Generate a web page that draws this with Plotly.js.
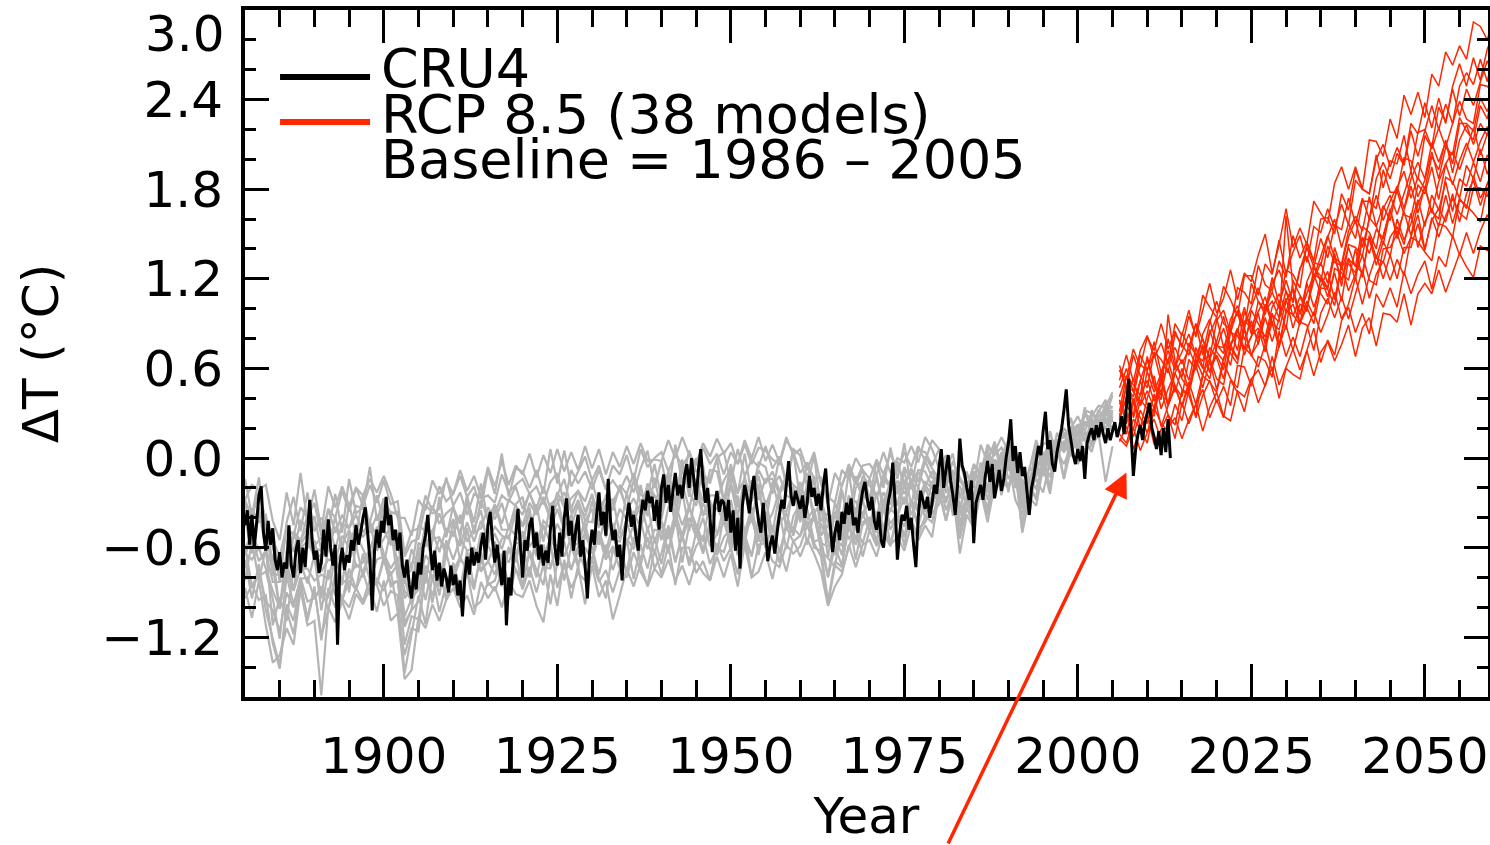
<!DOCTYPE html>
<html><head><meta charset="utf-8">
<script src="https://cdn.plot.ly/plotly-3.0.1.min.js"></script>
<style>html,body{margin:0;padding:0;background:#fff;}#chart{width:1490px;height:845px;}</style>
</head><body><div id="chart"></div>
<script>
// ---------------- DATA (temperature anomalies in hundredths of °C, baseline 1986-2005) ----------------
const cruStartYear = 1880;
const cruStepsPerYear = 3;
const cru4 = [
-45,-35,-58, -38,-60,-44, -25,-19,-50, -62,-42,-58, -47,-68,-75, -63,-80,-70, -74,-45,-72, -80,-62,-55, -77,-60,-73, -50,-28,-55,
-68,-62,-77, -70,-48,-66, -41,-60,-72, -58,-125,-72, -60,-75,-65, -70,-55,-62, -45,-58,-50, -40,-33,-50, -68,-102,-62, -48,-60,-42,
-50,-26,-45, -38,-55,-48, -62,-50,-72, -80,-68,-85, -94,-76,-88, -70,-78,-60, -52,-38,-58, -75,-62,-82, -70,-86,-74, -80,-90,-72,
-85,-78,-92, -82,-106,-80, -66,-78,-60, -72,-63,-70, -58,-50,-68, -45,-36,-55, -70,-58,-72, -85,-62,-112, -80,-92,-66, -52,-34,-58,
-80,-55,-62, -45,-40,-60, -50,-68,-58, -72,-62,-70, -48,-32,-60, -72,-50,-66, -40,-27,-52, -42,-62,-48, -38,-66,-55, -72,-94,-62,
-48,-58,-38, -23,-45,-36, -52,-14,-42, -55,-48,-66, -58,-82,-55, -40,-30,-46, -38,-52,-62, -40,-28,-35, -22,-30,-26, -42,-28,-48,
-20,-11,-30, -18,-36,-22, -10,-25,-18, -27,-12,-4, -20,0,-14, -28,-8,6, -16,-30,-20, -40,-63,-32, -22,-36,-28, -30,-42,-28,
-50,-35,-62, -40,-74,-32, -18,-26,-37, -22,-12,-30, -42,-50,-30, -48,-69,-58, -52,-64,-50, -38,-28,-34, -18,-2,-25, -32,-22,-28,
-34,-25,-40, -30,-12,-26, -20,-32,-24, -35,-18,-7, -30,-45,-63, -50,-42,-55, -36,-44,-30, -38,-27,-45, -40,-50,-32, -22,-16,-28,
-35,-26,-42, -48,-36,-55, -60,-45,-30, -22,-3,-30, -68,-50,-38, -42,-32,-48, -40,-58,-73, -40,-22,-28, -34,-26,-40, -30,-18,-24,
-6,6,-20, -8,2,-15, -25,-38,-18, 13,-5,-10, -20,-28,-15, -57,-30,-24, -18,-28,-12, -2,-16,-4, -27,-18,-8, -22,-14,0,
10,26,-2, 8,-10,4, -12,-6,-22, -38,-20,-12, -2,8,2, 18,31,6, 12,-4,-9, 4,12,20, 32,46,22, 12,2,-4,
6,-2,8, -14,10,16, 20,12,22, 14,24,16, 10,20,12, 18,24,14, 20,28,16, 35,53,18, -12,6,16, 22,12,24,
30,37,20, 14,6,18, 2,20,4, 26,0
];

const histStartYear = 1880;  // historical model runs, one value per year 1880-2005
const hist01 = [-14,-39,-13,-48,-48,-82,-43,-26,-49,-23, -49,-40,-48,-24,-50,-14,-37,-33,-6,-42, -27,-37,-36,-66,-56,-54,-31,-37,-34,-13, -32,-23,-38,-24,-27,-25,-30,-11,-23,-18, -14,-24,-19,-31,-16,-10,-32,-8,-17,-9, -21,-8,-21,-15,-22,-12,-23,-7,5,-20, -2,-24,9,-17,5,-9,-10,-17,0,4, -17,6,-12,-1,-6,8,-7,1,-15,6, 2,-19,2,-36,-38,-40,-18,-7,-18,-8, -28,-2,-20,7,-14,10,-21,5,4,-5, 6,-18,-2,-13,-21,-4,-10,9,2,7, -4,-2,-20,-15,-12,10,9,8,16,20, 28,18,29,28,32,34];
const hist02 = [-94,-85,-95,-92,-124,-141,-102,-118,-86,-107, -86,-122,-87,-100,-94,-100,-87,-96,-81,-85, -99,-89,-92,-144,-118,-92,-111,-78,-103,-84, -85,-95,-76,-100,-96,-83,-89,-77,-94,-74, -88,-73,-90,-71,-98,-70,-72,-87,-77,-82, -68,-83,-75,-90,-75,-80,-63,-76,-85,-61, -78,-58,-85,-60,-60,-77,-69,-82,-57,-69, -60,-78,-50,-80,-58,-57,-69,-73,-58,-64, -59,-45,-57,-66,-98,-72,-76,-60,-45,-66, -48,-59,-51,-59,-38,-52,-42,-52,-39,-43, -21,-42,-21,-54,-33,-45,-14,-38,-18,-14, -18,-8,-49,-22,-14,-23,-2,4,-4,7, 12,12,4,22,19,19];
const hist03 = [-44,-52,-38,-45,-78,-78,-77,-49,-55,-46, -60,-62,-42,-61,-44,-47,-38,-50,-43,-52, -27,-57,-54,-83,-70,-69,-48,-49,-37,-51, -41,-50,-30,-50,-47,-33,-41,-30,-47,-35, -45,-30,-38,-26,-40,-30,-23,-36,-31,-39, -24,-42,-31,-34,-19,-35,-27,-37,-17,-25, -34,-12,-40,-6,-23,-32,-5,-35,-28,-15, -7,-32,-27,-15,-28,-14,-14,-24,-16,-23, -20,-28,-15,-42,-41,-55,-21,-46,-20,-15, -28,-14,-30,-16,-24,-6,-15,-9,-19,-9, -19,-7,-9,-37,-9,-28,-3,-23,9,-10, 13,-12,-12,-14,-3,-6,4,12,14,19, 22,12,24,24,28,42];
const hist04 = [-59,-86,-79,-76,-94,-121,-79,-98,-81,-80, -94,-87,-94,-64,-84,-80,-71,-76,-64,-85, -68,-84,-82,-113,-101,-75,-95,-71,-92,-64, -81,-68,-73,-65,-76,-69,-78,-64,-70,-57, -57,-80,-49,-73,-74,-58,-66,-53,-71,-60, -68,-52,-68,-59,-67,-57,-45,-73,-46,-65, -43,-64,-38,-70,-45,-45,-62,-42,-64,-38, -63,-38,-57,-34,-65,-39,-58,-36,-61,-39, -30,-58,-36,-62,-67,-73,-45,-54,-47,-57, -41,-50,-31,-44,-37,-46,-28,-36,-20,-31, -21,-27,-20,-44,-27,-31,-18,-27,-13,1, -23,7,-32,-38,-4,-4,0,12,-14,18, 18,0,32,20,24,18];
const hist05 = [-60,-52,-61,-59,-66,-101,-62,-78,-72,-60, -55,-76,-68,-69,-52,-60,-44,-53,-45,-62, -54,-46,-71,-89,-95,-62,-53,-68,-54,-60, -49,-59,-43,-56,-42,-54,-46,-52,-54,-37, -46,-38,-57,-42,-47,-34,-48,-46,-31,-50, -29,-46,-42,-49,-34,-41,-36,-47,-30,-34, -41,-18,-46,-22,-49,-22,-39,-25,-25,-42, -18,-39,-12,-41,-21,-44,-16,-34,-36,-22, -39,-18,-37,-30,-67,-36,-55,-29,-29,-40, -26,-39,-23,-31,-15,-24,-14,-28,-16,-20, -19,-6,-25,-31,-35,-10,-17,-7,-17,-3, 8,-20,-14,-26,-12,-4,9,4,11,6, 18,22,22,20,29,32];
const hist06 = [-64,-68,-60,-74,-89,-100,-76,-89,-74,-74, -82,-78,-81,-62,-85,-50,-73,-70,-61,-48, -64,-74,-66,-106,-94,-88,-65,-72,-86,-55, -68,-54,-62,-60,-71,-58,-69,-54,-52,-70, -49,-59,-53,-66,-54,-62,-43,-59,-57,-44, -63,-49,-63,-44,-54,-43,-58,-47,-30,-57, -42,-54,-37,-52,-33,-45,-56,-28,-52,-33, -55,-25,-50,-33,-55,-28,-50,-24,-45,-49, -26,-41,-34,-57,-59,-53,-59,-36,-45,-28, -46,-23,-49,-22,-39,-16,-46,-19,-36,-16, -12,-23,-21,-45,-27,-27,-10,-23,-11,-13, 4,-8,-26,-14,-20,-8,0,4,20,14, 8,24,24,14,34,30];
const hist07 = [-43,-34,-43,-39,-59,-82,-45,-63,-42,-46, -39,-62,-34,-50,-38,-47,-32,-34,-43,-25, -43,-36,-38,-79,-75,-45,-49,-32,-44,-37, -33,-44,-27,-43,-17,-42,-37,-25,-29,-19, -34,-24,-34,-19,-34,-25,-14,-34,-22,-29, -15,-33,-27,-35,-18,-24,-10,-25,-26,-4, -27,-9,-31,-1,-26,0,-20,-14,-1,-29, -4,-24,3,-25,-3,-6,-24,1,-18,4, -28,-3,-26,-23,-56,-30,-43,-9,-41,-12, -18,-27,-11,-19,-2,-19,-7,-16,1,-7, -14,-1,-15,-15,-23,-9,-15,5,-5,3, -6,6,-24,-8,12,-1,0,12,14,20, 10,32,30,24,36,34];
const hist08 = [-68,-94,-71,-102,-121,-139,-98,-109,-82,-109, -88,-119,-102,-80,-95,-82,-88,-76,-92,-81, -89,-76,-103,-132,-114,-116,-75,-97,-72,-95, -76,-91,-76,-88,-63,-85,-82,-66,-86,-63, -86,-62,-75,-85,-56,-87,-70,-74,-62,-74, -61,-81,-94,-60,-74,-54,-81,-58,-74,-53, -71,-48,-70,-51,-72,-59,-52,-71,-60,-63, -46,-65,-56,-65,-47,-59,-54,-70,-43,-47, -52,-42,-60,-62,-96,-69,-73,-40,-68,-43, -40,-58,-32,-58,-38,-59,-29,-47,-43,-33, -14,-35,-22,-52,-25,-46,-19,-35,-3,-25, -2,-28,-38,-16,-28,0,-20,12,10,2, 18,16,8,22,12,28];
const hist09 = [-65,-53,-69,-62,-73,-101,-70,-88,-60,-56, -66,-94,-59,-71,-62,-70,-51,-61,-71,-46, -71,-48,-80,-81,-98,-62,-84,-54,-53,-65, -43,-69,-47,-72,-50,-56,-51,-61,-46,-52, -59,-33,-66,-45,-57,-44,-54,-38,-57,-42, -34,-58,-36,-54,-56,-41,-44,-30,-48,-38, -55,-33,-31,-45,-32,-50,-30,-40,-33,-43, -28,-51,-22,-43,-17,-46,-37,-22,-47,-19, -43,-17,-42,-44,-56,-65,-38,-46,-34,-37, -28,-42,-29,-36,-18,-31,-17,-35,-18,-25, -7,-22,-18,-46,-24,-18,-28,-5,-14,4, -14,-6,-33,-7,-10,-11,12,8,6,12, 6,31,21,19,31,24];
const hist10 = [-40,-64,-33,-63,-83,-83,-80,-52,-58,-50, -67,-65,-62,-46,-58,-48,-60,-41,-50,-38, -48,-58,-53,-94,-87,-57,-59,-49,-63,-47, -52,-38,-56,-47,-35,-59,-31,-48,-48,-31, -26,-49,-31,-56,-31,-27,-47,-39,-28,-42, -43,-23,-53,-27,-51,-23,-43,-18,-39,-13, -36,-24,-37,-17,-34,-14,-37,-38,-24,-31, -17,-33,-24,-29,-12,-32,-19,-12,-25,-28, -16,-32,-12,-52,-45,-56,-48,-25,-36,-17, -35,-11,-36,-15,-32,-8,-32,-8,-9,-19, -10,-19,-8,-33,-18,-25,-12,-19,-1,-7, -8,6,-34,-22,-4,-12,18,0,10,12, 22,12,20,26,20,30];
const hist11 = [-82,-56,-82,-60,-112,-93,-109,-74,-70,-84, -65,-102,-75,-92,-62,-90,-58,-80,-62,-85, -66,-78,-71,-110,-102,-96,-72,-80,-71,-83, -76,-66,-76,-61,-74,-70,-56,-71,-60,-65, -51,-66,-62,-71,-53,-63,-56,-75,-59,-50, -63,-51,-65,-51,-67,-54,-61,-42,-61,-48, -49,-62,-43,-54,-40,-53,-40,-59,-51,-43, -58,-41,-50,-41,-56,-36,-53,-44,-37,-52, -33,-45,-39,-60,-79,-52,-65,-34,-55,-37, -49,-36,-47,-34,-39,-26,-38,-24,-40,-25, -11,-30,-15,-45,-26,-39,-8,-28,-22,-12, -2,-4,-44,-22,-26,4,-8,10,6,18, 4,18,10,22,26,20];
const hist12 = [-28,-18,-21,-18,-42,-55,-23,-45,-10,-43, -21,-48,-19,-33,-19,-32,-20,-25,-14,-23, -12,-24,-40,-40,-52,-28,-35,-15,-24,-15, -24,-12,-26,-19,-34,-8,-24,3,-26,-7, -9,-20,-8,-24,6,-17,5,-19,-9,1, -15,-5,-21,-5,-11,2,-15,6,-6,0, 4,-9,3,-5,2,-4,7,-4,3,-11, 4,-4,9,-4,7,5,-1,-4,12,4, -10,-3,-14,-13,-31,-10,-19,-4,-16,-5, -4,-11,4,-10,0,-3,8,-3,14,6, -7,2,-13,-3,-18,-6,-11,6,4,14, 4,6,-19,-20,10,0,12,10,16,20, 18,28,28,35,34,44];
const hist13 = [-87,-107,-82,-112,-137,-132,-114,-125,-88,-112, -109,-159,-100,-110,-96,-108,-91,-98,-87,-103, -82,-109,-104,-148,-142,-106,-114,-98,-109,-95, -87,-100,-92,-105,-83,-94,-86,-100,-82,-91, -93,-82,-99,-110,-78,-99,-68,-94,-72,-98, -72,-93,-82,-108,-92,-74,-86,-71,-86,-74, -80,-68,-82,-72,-85,-69,-77,-82,-66,-80, -64,-86,-58,-80,-76,-63,-81,-60,-76,-55, -66,-54,-64,-76,-99,-86,-78,-58,-73,-58, -55,-66,-48,-58,-53,-62,-44,-55,-45,-53, -23,-42,-23,-64,-38,-47,-22,-43,-18,-16, -20,-8,-50,-26,-32,-6,-24,8,-14,6, -4,6,8,16,-16,8];
const hist14 = [-29,-55,-40,-38,-72,-74,-72,-50,-56,-38, -59,-53,-62,-39,-62,-30,-53,-24,-47,-51, -32,-48,-49,-84,-61,-73,-43,-56,-26,-53, -32,-54,-24,-51,-28,-41,-31,-44,-28,-32, -38,-23,-37,-28,-41,-23,-33,-27,-22,-36, -25,-40,-25,-29,-21,-34,-15,-30,-21,-26, -25,-14,-28,-8,-21,-15,-29,-8,-9,-30, -9,-23,-14,-26,-8,-17,-9,-22,-12,-18, -22,-10,-26,-29,-43,-54,-22,-41,-12,-29, -14,-26,-14,-20,-5,-16,-10,-20,-2,-13, -17,-4,-18,-19,-32,-13,-12,2,-8,2, 12,-18,-16,-24,6,-6,4,10,4,10, 22,24,20,32,26,26];
const hist15 = [-28,-40,-22,-42,-55,-66,-46,-52,-33,-40, -30,-52,-34,-40,-22,-36,-20,-32,-18,-30, -15,-31,-29,-64,-49,-47,-25,-35,-19,-29, -24,-8,-22,-12,-26,-6,-19,-2,-18,-5, -11,3,-13,2,-10,6,-9,4,-8,8, -7,6,-11,4,-6,8,-4,10,-2,-1, -2,12,0,14,2,-4,10,1,13,3, 10,-4,12,0,14,-2,9,-3,14,2, 6,-8,4,-18,-26,-30,-8,-14,0,-8, -14,-1,-11,3,-9,4,-6,8,-2,12, 6,-7,3,-27,-11,-19,9,-3,11,-5, 10,-11,-19,-23,7,-3,-5,17,7,27, 9,34,13,31,39,24];
const hist16 = [-70,-86,-76,-96,-102,-116,-90,-100,-80,-96, -94,-86,-102,-78,-96,-74,-88,-64,-82,-68, -66,-86,-82,-125,-106,-108,-78,-92,-76,-94, -70,-88,-62,-86,-66,-82,-69,-86,-60,-75, -80,-64,-80,-58,-73,-58,-82,-59,-73,-52, -60,-78,-58,-75,-61,-76,-53,-68,-53,-74, -64,-45,-69,-52,-70,-50,-64,-46,-65,-53, -47,-64,-51,-66,-40,-60,-45,-63,-46,-56, -52,-34,-56,-54,-80,-59,-72,-46,-58,-45, -40,-56,-32,-48,-38,-53,-29,-45,-29,-37, -31,-14,-38,-38,-26,-42,-20,-34,-10,-20, 2,-17,-27,-13,-21,-1,-13,9,17,1, 17,2,27,13,25,32];

const rcpStartYear = 2006;   // RCP 8.5 model runs, one value per year 2006-2060
const rcp01 = [52,69,51,72,82,67,77,63,90,82, 99,81,99,117,97,107,126,106,124,118, 136,150,124,143,167,141,154,143,172,164, 157,184,195,180,195,180,213,212,202,227, 214,243,230,245,228,257,249,272,263,276, 267,292,289,280,298];
const rcp02 = [62,48,41,63,58,78,57,72,59,84, 74,90,69,91,105,90,86,114,111,103, 129,116,112,132,121,149,134,145,132,160, 161,150,177,166,193,180,177,200,210,195, 208,197,224,217,238,221,241,224,249,264, 249,268,253,274,284];
const rcp03 = [59,53,73,61,81,72,90,73,85,74, 95,82,109,101,94,115,106,95,122,122, 109,130,123,146,123,138,149,131,155,151, 167,154,170,156,186,180,177,203,181,199, 197,216,192,218,220,208,235,225,247,229, 247,236,252,266,254];
const rcp04 = [38,35,29,52,36,31,52,60,44,60, 46,68,80,66,78,95,75,85,101,83, 105,99,121,103,119,104,126,141,128,147, 134,156,153,174,157,174,160,187,198,187, 204,196,219,202,219,236,220,237,224,249, 258,250,267,252,275];
const rcp05 = [31,55,49,42,68,50,42,66,74,63, 73,62,83,93,76,70,93,102,88,101, 114,100,111,100,126,123,114,144,131,129, 148,160,141,157,147,172,172,167,193,178, 178,201,199,186,216,207,221,208,224,239, 227,224,250,249,243];
const rcp06 = [19,31,14,32,23,43,21,35,47,35, 51,36,56,67,53,49,74,66,87,69, 77,94,78,93,107,87,103,100,123,120, 113,141,126,141,128,155,151,140,167,176, 163,177,192,175,186,205,187,208,203,228, 219,213,236,227,250];
const rcp07 = [59,47,69,55,47,71,66,57,83,76, 69,90,79,67,92,99,84,99,86,117, 105,96,117,126,111,106,127,135,121,135, 149,134,130,152,162,152,175,155,169,159, 181,192,174,188,180,202,193,213,191,213, 223,210,224,216,240];
const rcp08 = [25,41,53,35,45,33,57,66,48,41, 66,59,76,57,74,87,70,63,92,87, 80,103,90,103,86,119,109,101,119,131, 117,137,115,143,141,135,161,155,143,165, 179,163,161,183,177,195,173,197,205,193, 207,221,203,217,209];
const rcp09 = [37,29,19,39,33,28,52,35,49,34, 49,62,47,65,46,67,76,67,86,68, 85,78,97,76,99,96,89,117,101,115, 125,106,130,130,124,148,137,153,147,167, 147,166,182,164,182,164,185,197,183,199, 211,198,212,222,208];
const rcp10 = [41,55,36,52,66,48,39,96,65,54, 77,69,60,86,71,65,88,98,79,92, 76,99,105,94,112,95,108,98,127,122, 114,135,119,134,119,147,146,134,149,166, 150,165,149,170,181,165,160,188,185,174, 196,187,207,190,207];
const rcp11 = [16,10,26,20,10,34,23,18,36,25, 46,27,42,52,37,48,35,62,61,48, 68,65,54,85,68,81,68,86,98,84, 96,111,93,103,121,103,122,136,120,136, 120,141,141,157,139,161,148,162,174,164, 160,181,181,175,195];
const rcp12 = [26,48,45,35,58,44,57,36,57,66, 52,74,61,53,75,74,62,86,73,81, 97,76,90,74,97,103,90,101,90,114, 113,102,129,112,123,136,119,116,140,141, 150,137,148,163,140,159,167,158,177,158, 177,186,169,184,194];
const rcp13 = [30,16,37,27,17,35,46,29,22,45, 42,28,55,51,44,64,53,47,74,69, 61,76,58,75,89,72,91,89,72,97, 107,94,108,93,110,126,107,123,132,119, 133,122,148,145,138,132,157,155,148,173, 169,164,158,181,180];
const rcp14 = [11,21,6,20,29,9,19,29,13,37, 23,36,46,27,39,27,52,44,31,53, 59,48,68,49,61,73,59,72,87,64, 79,69,92,101,84,97,83,110,101,114, 101,125,110,123,132,113,135,128,149,136, 151,137,152,163,148];
const rcp15 = [47,60,44,69,59,70,51,80,61,71, 83,69,65,83,94,74,86,72,98,88, 98,108,90,86,105,113,97,110,123,110, 103,127,124,119,140,121,149,134,131,148, 155,143,164,141,158,167,155,176,157,174, 167,189,174,183,192];
const rcp16 = [13,8,20,5,17,26,12,20,27,13, 26,36,18,34,44,28,25,45,41,53, 37,49,61,40,60,56,53,72,55,71, 78,65,76,89,68,87,94,75,97,96, 91,110,89,110,117,110,126,111,124,137, 128,121,142,139,143];
const rcp17 = [39,23,40,20,40,55,33,46,57,46, 43,63,74,58,69,59,84,82,73,99, 90,81,101,110,98,113,96,118,129,118, 142,131,129,148,159,141,160,176,159,172, 182,167,187,198,187,211,198,212,197,224, 224,219,241,232,247];
const rcp18 = [27,49,27,42,52,38,52,35,64,53, 46,66,55,74,67,53,76,87,69,82, 87,71,96,91,162,114,90,105,95,121, 108,124,105,133,129,124,148,129,145,135, 160,146,157,173,155,176,166,185,165,187, 182,198,185,203,195];

const xTickVals = [1900, 1925, 1950, 1975, 2000, 2025, 2050];
const yTickVals = [-1.2, -0.6, 0.0, 0.6, 1.2, 1.8, 2.4];
const yTopLabel = '3.0';
const legendLabels = ['CRU4', 'RCP 8.5 (38 models)', 'Baseline = 1986 \u2013 2005'];
const xTitle = 'Year';
const yTitle = '\u0394T (\u00b0C)';

// ---------------- BUILD ----------------
const histModels = [hist01,hist02,hist03,hist04,hist05,hist06,hist07,hist08,hist09,hist10,hist11,hist12,hist13,hist14,hist15,hist16];
const rcpModels = [rcp01,rcp02,rcp03,rcp04,rcp05,rcp06,rcp07,rcp08,rcp09,rcp10,rcp11,rcp12,rcp13,rcp14,rcp15,rcp16,rcp17,rcp18];

const GRAY = 'rgb(180,180,180)';
const RED = 'rgb(255,38,0)';
const FONT = 'DejaVu Sans, Liberation Sans, sans-serif';

function yearAxis(start, n, perYear) {
  const out = [];
  for (let i = 0; i < n; i++) out.push(start + i / perYear);
  return out;
}
const toDeg = arr => arr.map(v => v / 100);

const traces = [];
histModels.forEach(m => traces.push({
  type: 'scatter', mode: 'lines', x: yearAxis(histStartYear, m.length, 1), y: toDeg(m),
  line: {color: GRAY, width: 2.2, simplify: false}, hoverinfo: 'skip', showlegend: false
}));
rcpModels.forEach(m => traces.push({
  type: 'scatter', mode: 'lines', x: yearAxis(rcpStartYear, m.length, 1), y: toDeg(m),
  line: {color: RED, width: 1.5, simplify: false}, hoverinfo: 'skip', showlegend: false
}));
traces.push({
  type: 'scatter', mode: 'lines', x: yearAxis(cruStartYear, cru4.length, cruStepsPerYear), y: toDeg(cru4),
  line: {color: 'black', width: 3, simplify: false}, hoverinfo: 'skip', showlegend: false
});

const layout = {
  width: 1490, height: 845,
  margin: {l: 245, r: 2, t: 10, b: 148, pad: 0},
  paper_bgcolor: 'white', plot_bgcolor: 'white',
  font: {family: FONT, color: 'black', size: 50},
  showlegend: false,
  xaxis: {
    range: [1880, 2059.1], tickmode: 'array', tickvals: xTickVals,
    ticks: 'inside', ticklen: 33, tickwidth: 3, tickcolor: 'black',
    minor: {dtick: 5, tick0: 1880, ticks: 'inside', ticklen: 17, tickwidth: 3, tickcolor: 'black'},
    showline: true, linecolor: 'black', linewidth: 4, mirror: 'ticks',
    showgrid: false, zeroline: false,
    tickfont: {family: FONT, size: 50, color: 'black'}, ticklabelstandoff: 12,
    title: {text: xTitle, font: {family: FONT, size: 50, color: 'black'}, standoff: 37}
  },
  yaxis: {
    range: [-1.6, 3.0], tickmode: 'array', tickvals: yTickVals, tickformat: '.1f',
    ticks: 'inside', ticklen: 24, tickwidth: 3, tickcolor: 'black',
    minor: {dtick: 0.2, tick0: 0, ticks: 'inside', ticklen: 11, tickwidth: 3, tickcolor: 'black'},
    showline: true, linecolor: 'black', linewidth: 4, mirror: 'ticks',
    showgrid: false, zeroline: false,
    tickfont: {family: FONT, size: 50, color: 'black'}, ticklabelstandoff: 8,
    title: {text: yTitle, font: {family: FONT, size: 50, color: 'black'}, standoff: 28}
  },
  shapes: [
    {type: 'line', xref: 'paper', yref: 'paper', x0: 0.0282, x1: 0.1006, y0: 0.9025, y1: 0.9025, line: {color: 'black', width: 6}},
    {type: 'line', xref: 'paper', yref: 'paper', x0: 0.0282, x1: 0.1006, y0: 0.837, y1: 0.837, line: {color: RED, width: 6}}
  ],
  annotations: [
    {xref: 'paper', yref: 'paper', x: 0.108, y: 0.9148, xanchor: 'left', yanchor: 'middle', showarrow: false, text: legendLabels[0], font: {family: FONT, size: 54, color: 'black'}},
    {xref: 'paper', yref: 'paper', x: 0.108, y: 0.8472, xanchor: 'left', yanchor: 'middle', showarrow: false, text: legendLabels[1], font: {family: FONT, size: 54, color: 'black'}},
    {xref: 'paper', yref: 'paper', x: 0.108, y: 0.7831, xanchor: 'left', yanchor: 'middle', showarrow: false, text: legendLabels[2], font: {family: FONT, size: 54, color: 'black'}},
    {xref: 'paper', yref: 'paper', x: -0.0145, y: 0.9655, xanchor: 'right', yanchor: 'middle', showarrow: false, text: yTopLabel, font: {family: FONT, size: 50, color: 'black'}},
    {xref: 'x', yref: 'y', x: 2007.0, y: -0.096, ax: -179, ay: 378, axref: 'pixel', ayref: 'pixel',
     showarrow: true, text: '', arrowhead: 2, arrowsize: 1.4, arrowwidth: 3.5, arrowcolor: RED, standoff: 0}
  ]
};

Plotly.newPlot('chart', traces, layout, {staticPlot: true, displayModeBar: false});
</script>
</body></html>
